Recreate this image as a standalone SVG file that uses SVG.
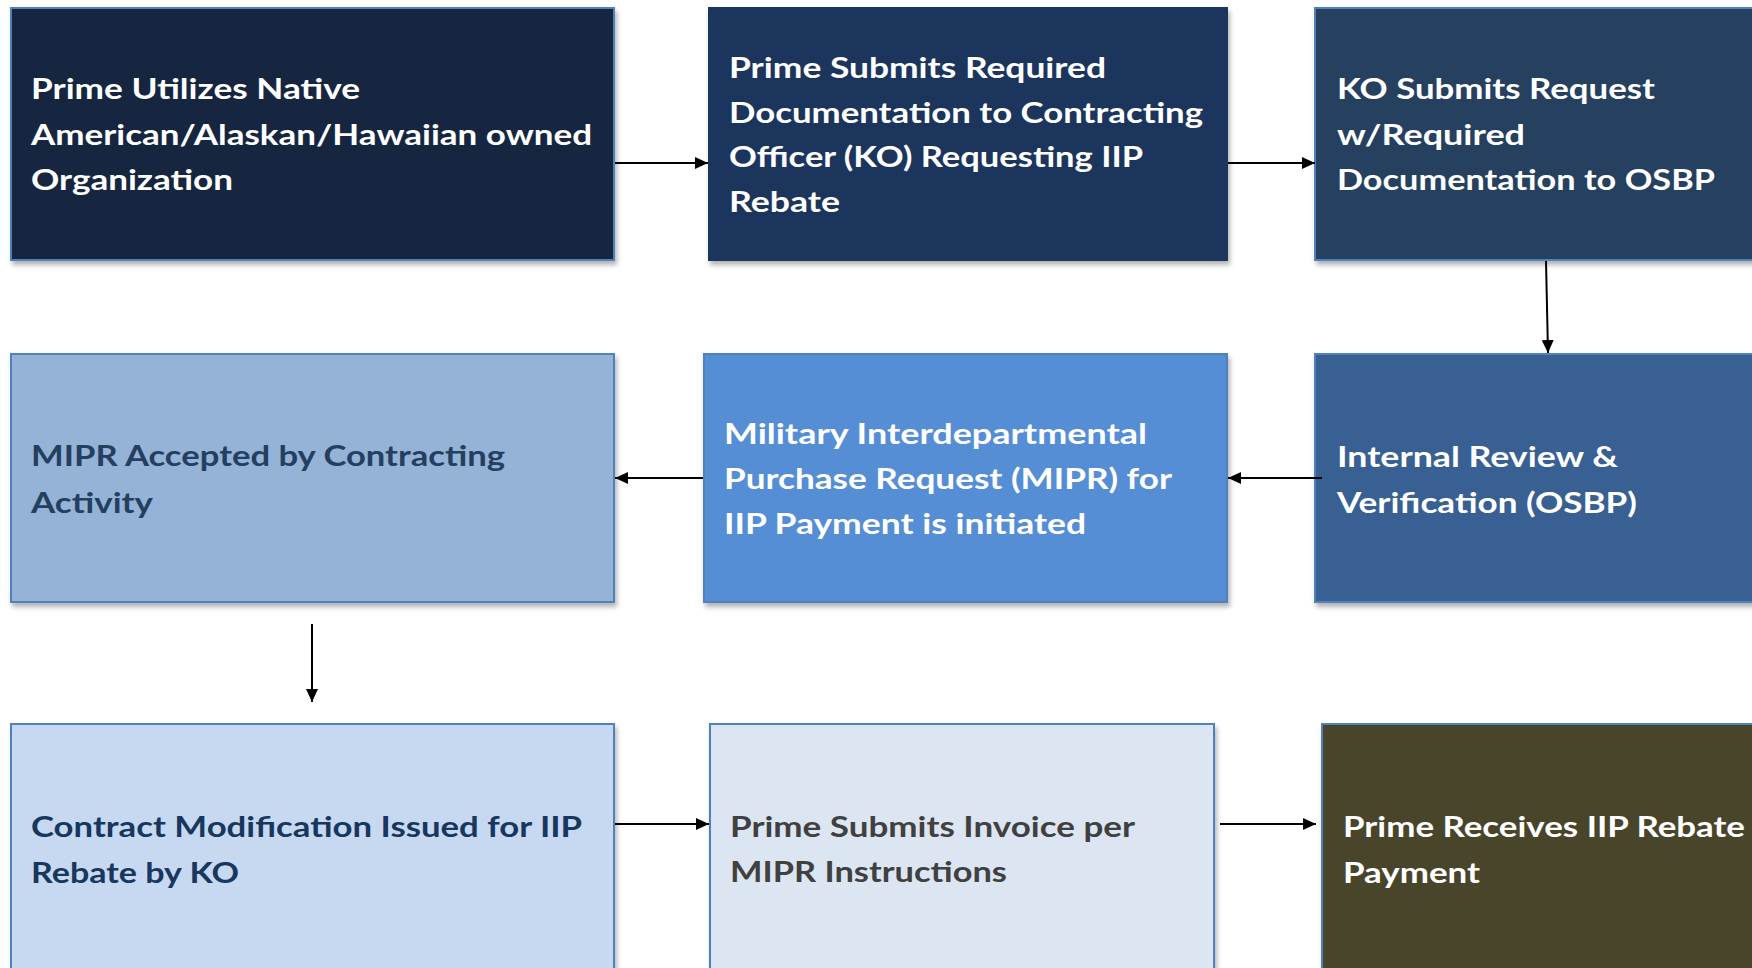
<svg xmlns="http://www.w3.org/2000/svg" width="1752" height="968" viewBox="0 0 1752 968">
<defs>
<filter id="sh" x="-5%" y="-5%" width="110%" height="115%">
<feDropShadow dx="2" dy="4" stdDeviation="2.5" flood-color="#000" flood-opacity="0.3"/>
</filter>
<marker id="ah" markerUnits="userSpaceOnUse" markerWidth="13" markerHeight="12" refX="13" refY="6" orient="auto">
<path d="M0,0 L13,6 L0,12 z" fill="#000"/>
</marker>
</defs>
<style>
.box{stroke:#4F81BD;stroke-width:2;filter:url(#sh)}
text{font-family:Lato,"Open Sans","Liberation Sans",sans-serif;font-weight:700;font-size:28px}
.w{fill:#FFFFFF}
.d{fill:#243F60}
.n{fill:#17375E}
.g{fill:#404040}
.c line{stroke:#000;stroke-width:2;marker-end:url(#ah)}
</style>
<rect width="1752" height="968" fill="#FFFFFF"/>

<g id="n1">
<rect class="box" x="11" y="8" width="603" height="252" fill="#12263F" stroke="#5B9BD5"/>
<text class="w" x="31" y="99" textLength="329" lengthAdjust="spacingAndGlyphs">Prime Utilizes Native</text>
<text class="w" x="31" y="145" textLength="561" lengthAdjust="spacingAndGlyphs">American/Alaskan/Hawaiian owned</text>
<text class="w" x="31" y="190" textLength="202" lengthAdjust="spacingAndGlyphs">Organization</text>
</g>

<g id="n2">
<rect class="box" x="709" y="8" width="518" height="252" fill="#1B365D" style="stroke:#1B365D"/>
<text class="w" x="729" y="78" textLength="377" lengthAdjust="spacingAndGlyphs">Prime Submits Required</text>
<text class="w" x="729" y="123" textLength="474" lengthAdjust="spacingAndGlyphs">Documentation to Contracting</text>
<text class="w" x="729" y="167" textLength="414" lengthAdjust="spacingAndGlyphs">Officer (KO) Requesting IIP</text>
<text class="w" x="729" y="212" textLength="111" lengthAdjust="spacingAndGlyphs">Rebate</text>
</g>

<g id="n3">
<rect class="box" x="1315" y="8" width="450" height="252" fill="#263F60"/>
<text class="w" x="1337" y="99" textLength="318" lengthAdjust="spacingAndGlyphs">KO Submits Request</text>
<text class="w" x="1337" y="145" textLength="188" lengthAdjust="spacingAndGlyphs">w/Required</text>
<text class="w" x="1337" y="190" textLength="378" lengthAdjust="spacingAndGlyphs">Documentation to OSBP</text>
</g>

<g id="n4">
<rect class="box" x="11" y="354" width="603" height="248" fill="#95B3D7"/>
<text class="d" x="31" y="466" textLength="474" lengthAdjust="spacingAndGlyphs">MIPR Accepted by Contracting</text>
<text class="d" x="31" y="513" textLength="122" lengthAdjust="spacingAndGlyphs">Activity</text>
</g>

<g id="n5">
<rect class="box" x="704" y="354" width="523" height="248" fill="#558ED5"/>
<text class="w" x="724" y="444" textLength="423" lengthAdjust="spacingAndGlyphs">Military Interdepartmental</text>
<text class="w" x="724" y="489" textLength="448" lengthAdjust="spacingAndGlyphs">Purchase Request (MIPR) for</text>
<text class="w" x="724" y="534" textLength="362" lengthAdjust="spacingAndGlyphs">IIP Payment is initiated</text>
</g>

<g id="n6">
<rect class="box" x="1315" y="354" width="450" height="248" fill="#376092"/>
<text class="w" x="1337" y="467" textLength="281" lengthAdjust="spacingAndGlyphs">Internal Review &amp;</text>
<text class="w" x="1337" y="513" textLength="300" lengthAdjust="spacingAndGlyphs">Verification (OSBP)</text>
</g>

<g id="n7">
<rect class="box" x="11" y="724" width="603" height="260" fill="#C6D9F1"/>
<text class="n" x="31" y="837" textLength="551" lengthAdjust="spacingAndGlyphs">Contract Modification Issued for IIP</text>
<text class="n" x="31" y="883" textLength="208" lengthAdjust="spacingAndGlyphs">Rebate by KO</text>
</g>

<g id="n8">
<rect class="box" x="710" y="724" width="504" height="260" fill="#DCE6F2"/>
<text class="g" x="730" y="837" textLength="405" lengthAdjust="spacingAndGlyphs">Prime Submits Invoice per</text>
<text class="g" x="730" y="882" textLength="277" lengthAdjust="spacingAndGlyphs">MIPR Instructions</text>
</g>

<g id="n9">
<rect class="box" x="1322" y="724" width="450" height="260" fill="#4A452A"/>
<text class="w" x="1343" y="837" textLength="402" lengthAdjust="spacingAndGlyphs">Prime Receives IIP Rebate</text>
<text class="w" x="1343" y="883" textLength="137" lengthAdjust="spacingAndGlyphs">Payment</text>
</g>

<g id="connectors" class="c">
<line x1="615" y1="163" x2="708" y2="163"/>
<line x1="1228" y1="163" x2="1315" y2="163"/>
<line x1="1546" y1="261" x2="1548" y2="353"/>
<line x1="1322" y1="478" x2="1228" y2="478"/>
<line x1="703" y1="478" x2="615" y2="478"/>
<line x1="312" y1="624" x2="312" y2="702"/>
<line x1="615" y1="824" x2="709" y2="824"/>
<line x1="1220" y1="824" x2="1316" y2="824"/>
</g>
</svg>
